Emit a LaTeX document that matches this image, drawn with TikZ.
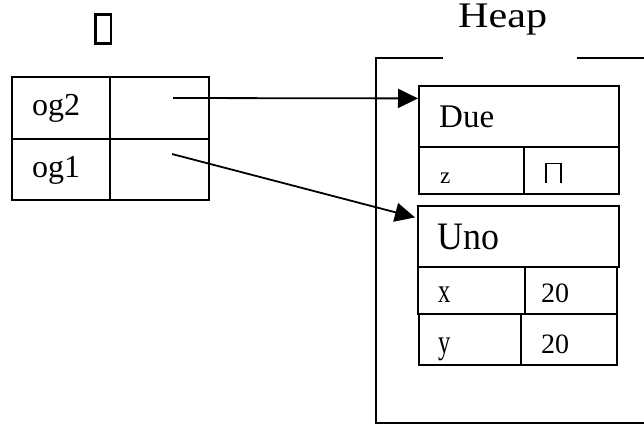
\documentclass[tikz,border=0pt]{standalone}
\usepackage{fontspec}
\usepackage{graphicx}
\setmainfont{Liberation Serif}
\usetikzlibrary{arrows.meta,calc}
\newcommand{\fsz}[1]{\fontsize{#1}{#1}\selectfont}

\begin{document}
\begin{tikzpicture}[x=1pt,y=-1pt,
  cell/.style={draw, line width=2pt, inner sep=0pt, anchor=north west},
  lbl/.style={anchor=base west, inner sep=0pt},
  frame/.style={line width=2pt},
  ptr/.style={line width=1.8pt, -{Triangle[length=20pt,width=19pt]}}]
\useasboundingbox (0,0) rectangle (644,424);
\clip (0,0) rectangle (644,424);

% stack title (placeholder glyph box)
\node[draw, line width=2.5pt, inner sep=0pt, anchor=north west,
      minimum width=15.5pt, minimum height=29pt] (stacktitle) at (94.3,13.3) {};

% stack table
\node[cell, minimum width=98pt, minimum height=62pt] (og2n) at (11,76) {};
\node[cell, minimum width=99pt, minimum height=62pt] (og2v) at (109,76) {};
\node[cell, minimum width=98pt, minimum height=61pt] (og1n) at (11,138) {};
\node[cell, minimum width=99pt, minimum height=61pt] (og1v) at (109,138) {};
\node[lbl, font=\fsz{32}] (og2t) at (32,115) {og2};
\node[lbl, font=\fsz{32}] (og1t) at (32,177) {og1};

% heap frame
\node[lbl, font=\fsz{36}] (heapt) at (458,27) {\scalebox{1.17}[1]{Heap}};
\coordinate (hnw) at (376,58);
\coordinate (hsw) at (376,423);
\draw[frame] (443,58) -- (hnw) -- (hsw) -- (650,423);
\draw[frame] (577,58) -- (650,58);

% object Due
\node[cell, minimum width=200pt, minimum height=61pt] (due) at (418,85) {};
\node[cell, minimum width=105pt, minimum height=47pt] (zn) at (418,146) {};
\node[cell, minimum width=95pt, minimum height=47pt] (zv) at (523,146) {};
\node[lbl, font=\fsz{33}] (duet) at (439,127) {Due};
\node[lbl, font=\fsz{23}] (zt) at (440,183) {z};
\draw[line width=1.4pt] (546,183) -- (546,163.5) -- (561,163.5) -- (561,183);

% object Uno
\node[cell, minimum width=201pt, minimum height=61pt] (uno) at (417,205) {};
\node[cell, minimum width=107pt, minimum height=47pt] (xn) at (417,266) {};
\node[cell, minimum width=92pt, minimum height=47pt] (xv) at (524,266) {};
\node[cell, minimum width=102pt, minimum height=51pt] (yn) at (418,313) {};
\node[cell, minimum width=96pt, minimum height=51pt] (yv) at (520,313) {};
\node[lbl, font=\fsz{37}] (unot) at (437,249) {\scalebox{0.97}[1.05]{Uno}};
\node[lbl, font=\fsz{34}] (xt) at (438,302) {\scalebox{0.72}[1]{x}};
\node[lbl, font=\fsz{34}] (yt) at (438,353) {\scalebox{0.72}[1]{y}};
\node[lbl, font=\fsz{28}] (x20) at (541,302) {20};
\node[lbl, font=\fsz{28}] (y20) at (541,353) {20};

% references
\coordinate (r2) at (173,98);
\coordinate (r1) at (172,154);
\draw[ptr] (r2) -- ($(due.north west)!0.213!(due.south west)$);
\draw[ptr] (r1) -- ($(uno.north west)!0.197!(uno.south west)+(-2,0)$);
\end{tikzpicture}
\end{document}
